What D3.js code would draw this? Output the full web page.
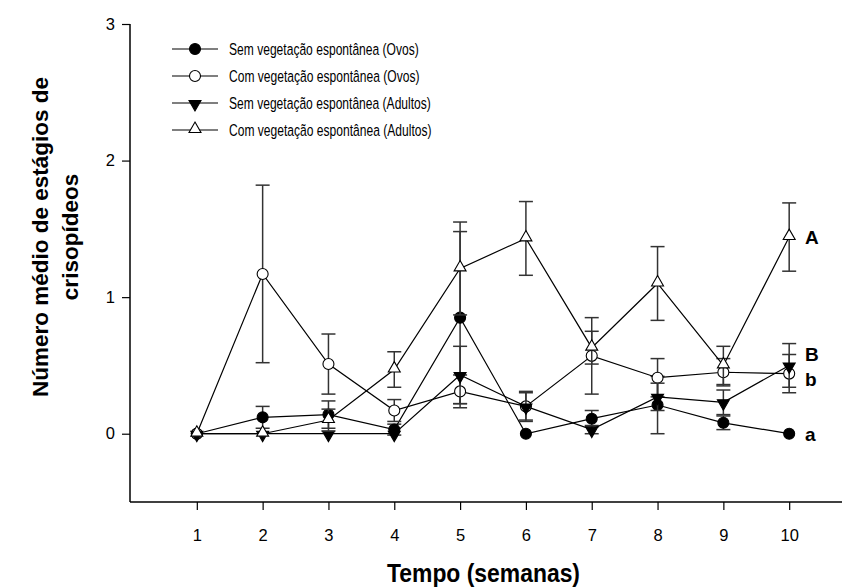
<!DOCTYPE html>
<html>
<head>
<meta charset="utf-8">
<script src="https://cdn.jsdelivr.net/npm/d3@7/dist/d3.min.js"></script>
<style>
  html, body { margin: 0; padding: 0; background: #fff; }
  svg { display: block; font-family: Arial, "Liberation Sans", sans-serif; }
</style>
</head>
<body>
<svg id="chart" width="842" height="588"></svg>
<script>
// Semanas de amostragem
const weeks = [1, 2, 3, 4, 5, 6, 7, 8, 9, 10];

// Ovos – sem vegetação espontânea (média e erro padrão)
const ovosSem    = [0, 0.12, 0.14, 0.03, 0.85, 0.00, 0.11, 0.21, 0.08, 0.00];
const ovosSemErr = [0, 0.08, 0.10, 0.04, 0.63, 0.00, 0.06, 0.21, 0.05, 0.00];

// Ovos – com vegetação espontânea
const ovosCom    = [0, 1.17, 0.51, 0.17, 0.31, 0.20, 0.57, 0.41, 0.45, 0.44];
const ovosComErr = [0, 0.65, 0.22, 0.08, 0.12, 0.11, 0.28, 0.14, 0.10, 0.14];

// Adultos – sem vegetação espontânea
const adSem    = [0, 0, 0, 0, 0.43, 0.20, 0.03, 0.27, 0.23, 0.50];
const adSemErr = [0, 0, 0, 0, 0.21, 0.10, 0.03, 0.10, 0.09, 0.16];

// Adultos – com vegetação espontânea
const adCom    = [0, 0, 0.10, 0.47, 1.21, 1.43, 0.63, 1.10, 0.50, 1.44];
const adComErr = [0, 0, 0.08, 0.13, 0.34, 0.27, 0.12, 0.27, 0.14, 0.25];

// Rótulos de eixos, legenda e letras de significância
const yTicks = [0, 1, 2, 3];
const legendLabels = [
  "Sem vegetação espontânea (Ovos)",
  "Com vegetação espontânea (Ovos)",
  "Sem vegetação espontânea (Adultos)",
  "Com vegetação espontânea (Adultos)"
];
const sigLetters = ["A", "B", "b", "a"];
const sigValues  = [1.44, 0.58, 0.40, 0.00];

const svg = d3.select("#chart");

const x = d3.scaleLinear().domain([0, 11]).range([131, 855]);
const y = d3.scaleLinear().domain([-0.5, 3]).range([502, 24]);

// Eixos
const yAxis = d3.axisLeft(y).tickValues(yTicks).tickSize(8).tickPadding(7).tickFormat(d3.format("d"));
const gy = svg.append("g").attr("transform", `translate(${x.range()[0] - 1},0)`).call(yAxis);
gy.select(".domain").attr("d", `M0,${y(3)}V${y(-0.5)}`).attr("stroke", "#000").attr("stroke-width", 1.5);
gy.selectAll(".tick line").attr("stroke", "#000").attr("stroke-width", 1.2);
gy.selectAll(".tick text").attr("font-size", 16.5).attr("fill", "#000");

const xAxis = d3.axisBottom(x).tickValues(weeks).tickSize(8).tickPadding(19).tickFormat(d3.format("d"));
const gx = svg.append("g").attr("transform", `translate(0,${y(-0.5)})`).call(xAxis);
gx.select(".domain").attr("d", `M${x.range()[0] - 1},0H842`).attr("stroke", "#000").attr("stroke-width", 1.5);
gx.selectAll(".tick line").attr("stroke", "#000").attr("stroke-width", 1.2);
gx.selectAll(".tick text").attr("font-size", 16.5).attr("fill", "#000");

// Títulos dos eixos
svg.append("text")
  .attr("x", 387).attr("y", 582)
  .attr("font-size", 25).attr("font-weight", "bold")
  .attr("textLength", 193).attr("lengthAdjust", "spacingAndGlyphs")
  .text("Tempo (semanas)");

const yt = svg.append("text")
  .attr("transform", "translate(0,237) rotate(-90)")
  .attr("text-anchor", "middle")
  .attr("font-size", 22.5).attr("font-weight", "bold");
yt.append("tspan").attr("x", 0).attr("y", 48).text("Número médio de estágios de");
yt.append("tspan").attr("x", 0).attr("y", 78).text("crisopídeos");

// Símbolos
const triUp = d3.symbol().type(d3.symbolTriangle).size(62);
function marker(g, kind, cx, cy) {
  if (kind === "circleFilled" || kind === "circleOpen") {
    g.append("circle").attr("cx", cx).attr("cy", cy).attr("r", 5.5)
      .attr("fill", kind === "circleFilled" ? "#000" : "#fff")
      .attr("stroke", "#000").attr("stroke-width", 1.1);
  } else {
    const down = kind === "triDown";
    g.append("path").attr("d", triUp())
      .attr("transform", `translate(${cx},${cy + (down ? 1 : -1)})${down ? " rotate(180)" : ""}`)
      .attr("fill", down ? "#000" : "#fff")
      .attr("stroke", "#000").attr("stroke-width", 1.1);
  }
}

const series = [
  { values: ovosSem, err: ovosSemErr, kind: "circleFilled" },
  { values: ovosCom, err: ovosComErr, kind: "circleOpen" },
  { values: adSem,   err: adSemErr,   kind: "triDown" },
  { values: adCom,   err: adComErr,   kind: "triUp" }
];

const line = d3.line().x(d => x(d[0])).y(d => y(d[1]));
const plot = svg.append("g");

series.forEach(s => {
  const g = plot.append("g");
  const pts = weeks.map((w, i) => [w, s.values[i], s.err[i]]);
  // Barras de erro
  pts.filter(p => p[2] > 0).forEach(p => {
    const cx = x(p[0]), y1 = y(p[1] + p[2]), y0 = y(p[1] - p[2]);
    const eb = g.append("g").attr("stroke", "#333").attr("stroke-width", 1.5);
    eb.append("line").attr("x1", cx).attr("x2", cx).attr("y1", y1).attr("y2", y0);
    eb.append("line").attr("x1", cx - 7).attr("x2", cx + 7).attr("y1", y1).attr("y2", y1);
    eb.append("line").attr("x1", cx - 7).attr("x2", cx + 7).attr("y1", y0).attr("y2", y0);
  });
  g.append("path").attr("d", line(pts)).attr("fill", "none")
    .attr("stroke", "#000").attr("stroke-width", 1.2);
  pts.forEach(p => marker(g, s.kind, x(p[0]), y(p[1])));
});

// Letras de significância
svg.append("g").selectAll("text").data(sigLetters).join("text")
  .attr("x", 805)
  .attr("y", (d, i) => y(sigValues[i]))
  .attr("dy", "0.36em")
  .attr("font-size", 19).attr("font-weight", "bold")
  .text(d => d);

// Legenda
const leg = svg.append("g");
legendLabels.forEach((lab, i) => {
  const ly = 49 + i * 27;
  leg.append("line").attr("x1", 172).attr("x2", 218).attr("y1", ly).attr("y2", ly)
    .attr("stroke", "#000").attr("stroke-width", 1.2);
  marker(leg, series[i].kind, 195, ly);
  leg.append("text")
    .attr("transform", `translate(229,${ly}) scale(0.71,1)`)
    .attr("dy", "0.36em")
    .attr("font-size", 17).text(lab);
});
</script>
</body>
</html>
